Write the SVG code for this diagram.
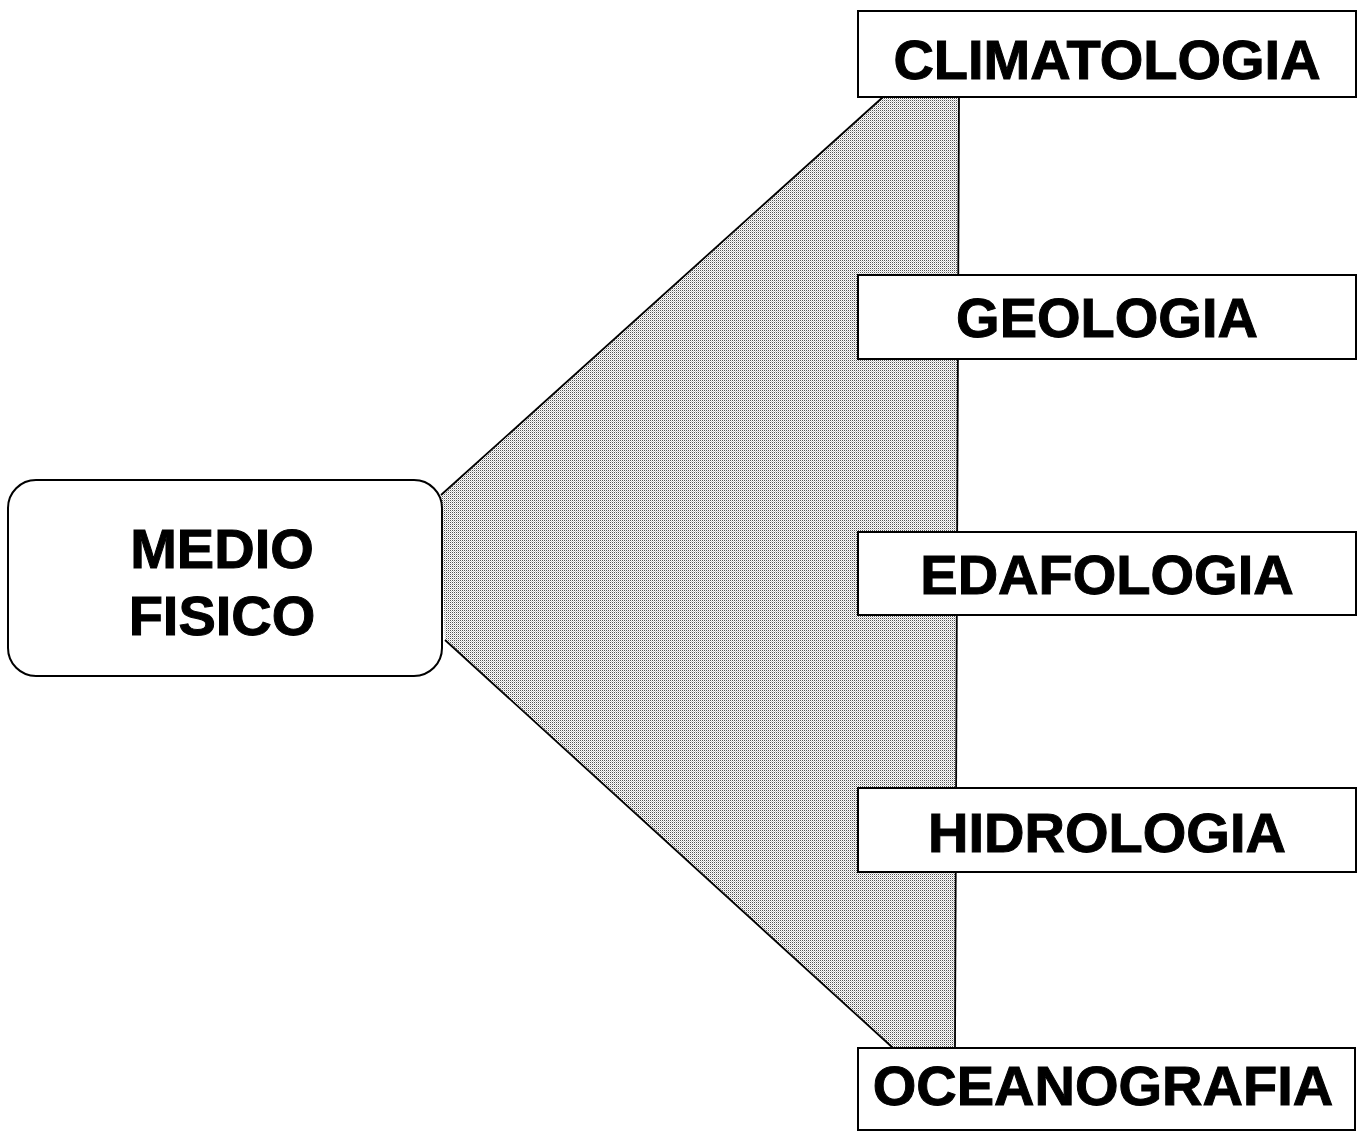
<svg xmlns="http://www.w3.org/2000/svg" width="1360" height="1133" viewBox="0 0 1360 1133">
  <style>
    .box { fill: #ffffff; stroke: #000000; stroke-width: 2; }
    .label { font-family: "Liberation Sans", Arial, Helvetica, sans-serif; font-weight: bold; font-size: 56px; fill: #000000; stroke: #000000; stroke-width: 1; text-anchor: middle; }
    .fan { fill: url(#halftone); stroke: none; }
    .fan-edge { fill: none; stroke: #000000; stroke-width: 1.8; stroke-linejoin: round; }
  </style>
  <defs>
    <!-- fine halftone screen used for the shaded fan -->
    <pattern id="halftone" x="0" y="0" width="2" height="2" patternUnits="userSpaceOnUse">
      <rect x="0" y="0" width="2" height="2" fill="#ffffff"/>
      <rect x="0" y="0" width="1" height="1" fill="#555555"/>
      <rect x="1" y="1" width="1" height="1" fill="#c8c8c8"/>
    </pattern>
  </defs>

  <rect x="0" y="0" width="1360" height="1133" fill="#ffffff"/>

  <!-- shaded fan linking the main box to the five disciplines -->
  <g id="connectors">
    <polygon class="fan" points="441,495 883,97 959,97 955,1048 893,1048 445,640"/>
    <path class="fan-edge" d="M441,495 L883,97"/>
    <path class="fan-edge" d="M445,640 L893,1048"/>
    <path class="fan-edge" d="M959,97 L955,1048"/>
  </g>

  <g id="medio-fisico">
    <rect class="box" x="8" y="480" width="434" height="196" rx="28" ry="28"/>
    <text class="label" x="222" y="568">MEDIO</text>
    <text class="label" x="222" y="635">FISICO</text>
  </g>

  <g id="climatologia">
    <rect class="box" x="858" y="11" width="498" height="86"/>
    <text class="label" x="1107" y="79">CLIMATOLOGIA</text>
  </g>

  <g id="geologia">
    <rect class="box" x="858" y="275" width="498" height="84"/>
    <text class="label" x="1107" y="337">GEOLOGIA</text>
  </g>

  <g id="edafologia">
    <rect class="box" x="858" y="532" width="498" height="83"/>
    <text class="label" x="1107" y="594">EDAFOLOGIA</text>
  </g>

  <g id="hidrologia">
    <rect class="box" x="858" y="788" width="498" height="84"/>
    <text class="label" x="1107" y="852">HIDROLOGIA</text>
  </g>

  <g id="oceanografia">
    <rect class="box" x="858" y="1048" width="497" height="82"/>
    <text class="label" x="1103" y="1105">OCEANOGRAFIA</text>
  </g>
</svg>
